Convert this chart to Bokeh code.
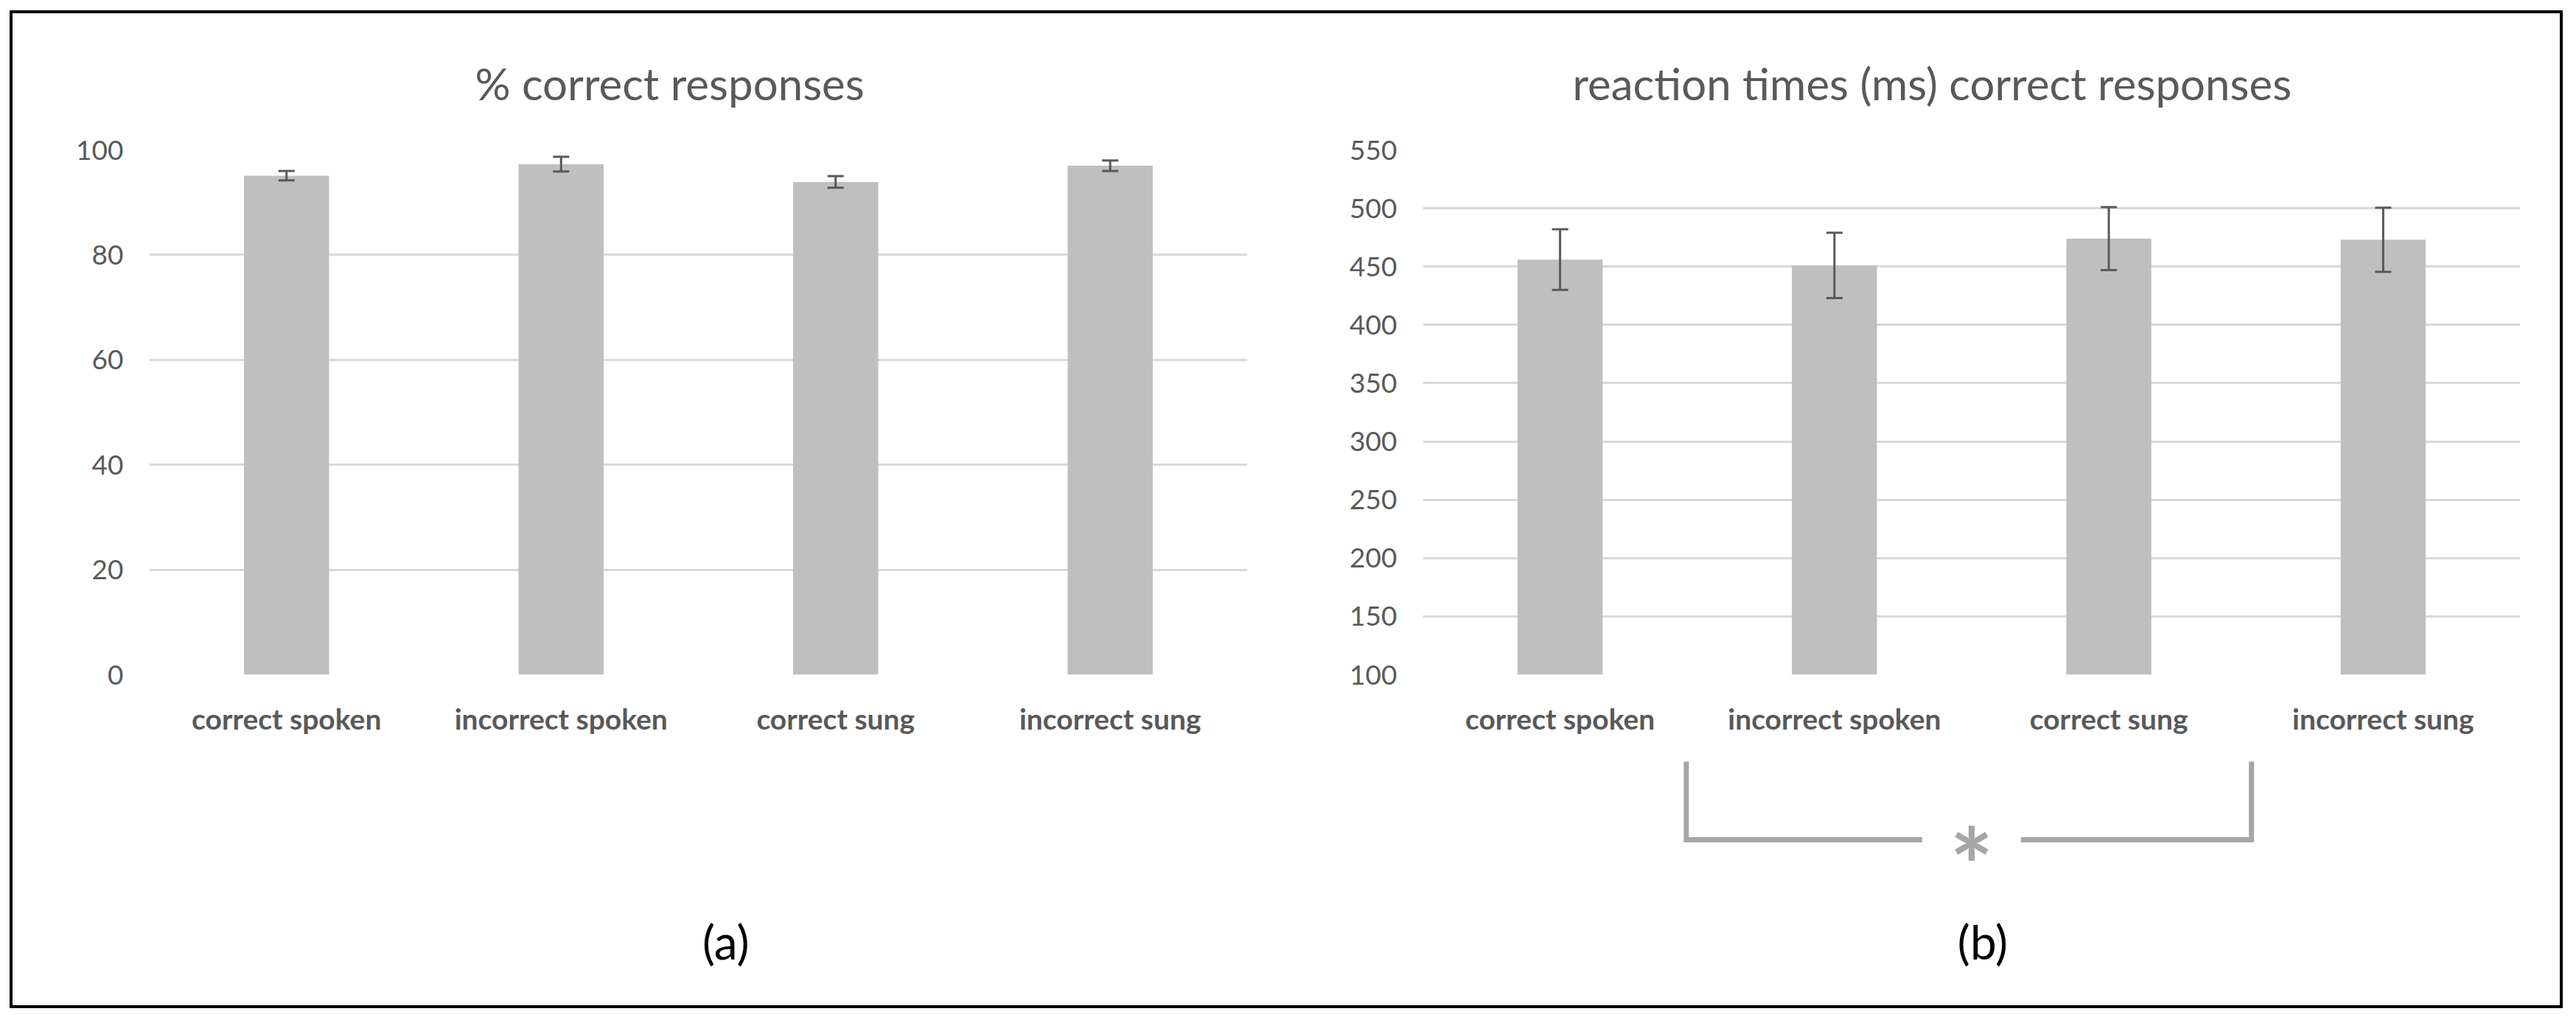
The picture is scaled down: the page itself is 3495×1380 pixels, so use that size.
from bokeh.plotting import figure
from bokeh.models import Range1d, FactorRange, FixedTicker, Whisker, TeeHead, ColumnDataSource
from bokeh.layouts import row, column
from bokeh.embed import file_html
from bokeh.resources import INLINE
from bokeh.core.properties import value

# ---------------- data ----------------
categories = ["correct spoken", "incorrect spoken", "correct sung", "incorrect sung"]
pct_correct = [95.1, 97.3, 93.9, 97.0]
pct_err = [0.9, 1.4, 1.1, 1.0]
rt_ms = [456, 451, 474, 473]
rt_err = [26, 28, 27, 27.5]
pct_ticks = [0, 20, 40, 60, 80, 100]
rt_ticks = [100, 150, 200, 250, 300, 350, 400, 450, 500, 550]
titles = ["% correct responses", "reaction times (ms) correct responses"]
panel_labels = ["(a)", "(b)"]

# ---------------- style ----------------
FW, TOP_H, BOT_H = 1728, 992, 354
FONT = "Lato"
TXT = "#595959"
BAR = "#bfbfbf"
GRID = "#d9d9d9"
BRACKET = "#a6a6a6"


def make_chart(title, vals, errs, ticks, y0, y1, title_offset, right):
    src = ColumnDataSource(dict(
        cat=categories, val=vals,
        upper=[v + e for v, e in zip(vals, errs)],
        lower=[v - e for v, e in zip(vals, errs)],
    ))
    p = figure(x_range=FactorRange(*categories), y_range=Range1d(y0, y1),
               width=FW, height=TOP_H, output_backend="svg", toolbar_location=None,
               min_border_left=185, min_border_right=right, min_border_top=185,
               min_border_bottom=95)
    p.vbar(x="cat", top="val", bottom=y0, width=0.31, source=src,
           fill_color=BAR, line_color=None)
    head_u = TeeHead(size=22, line_color=TXT, line_width=3)
    head_l = TeeHead(size=22, line_color=TXT, line_width=3)
    w = Whisker(base="cat", upper="upper", lower="lower", source=src,
                line_color=TXT, line_width=3, upper_head=head_u, lower_head=head_l,
                level="overlay")
    p.add_layout(w)

    p.title.text = title
    p.title.align = "left"
    p.title.offset = title_offset
    p.title.text_font = FONT
    p.title.text_font_size = "60px"
    p.title.text_font_style = "normal"
    p.title.text_color = TXT
    p.title.standoff = 109

    p.outline_line_color = None
    p.xgrid.grid_line_color = None
    p.ygrid.grid_line_color = GRID
    p.ygrid.grid_line_width = 3

    p.yaxis.ticker = FixedTicker(ticks=ticks)
    p.yaxis.axis_line_color = None
    p.yaxis.major_tick_line_color = None
    p.yaxis.minor_tick_line_color = None
    p.yaxis.major_tick_out = 0
    p.yaxis.major_label_standoff = 35
    p.yaxis.major_label_text_font = FONT
    p.yaxis.major_label_text_font_size = "37px"
    p.yaxis.major_label_text_color = TXT

    p.xaxis.axis_line_color = None
    p.xaxis.major_tick_line_color = None
    p.xaxis.major_tick_out = 0
    p.xaxis.major_label_standoff = 36
    p.xaxis.major_label_text_font = FONT
    p.xaxis.major_label_text_font_style = "bold"
    p.xaxis.major_label_text_font_size = "39px"
    p.xaxis.major_label_text_color = TXT
    return p


def make_bottom(x_range, right):
    b = figure(x_range=x_range, y_range=Range1d(BOT_H, 0), width=FW, height=BOT_H,
               output_backend="svg", toolbar_location=None,
               x_axis_location=None, y_axis_location=None,
               min_border_left=185, min_border_right=right, min_border_top=0,
               min_border_bottom=0)
    b.outline_line_color = None
    b.grid.visible = False
    return b


fig_a = make_chart(titles[0], pct_correct, pct_err, pct_ticks, 0, 100, 442, 53)
fig_b = make_chart(titles[1], rt_ms, rt_err, rt_ticks, 100, 550, 203, 54)

bot_a = make_bottom(fig_a.x_range, 53)
bot_b = make_bottom(fig_b.x_range, 54)

# panel labels
bot_a.text(x=[("correct sung", -0.4)], y=[267], text=[panel_labels[0]],
           text_align="center", text_baseline="middle", text_font=value(FONT),
           text_font_size="64px", text_color="black")
bot_b.text(x=[("correct sung", -0.46)], y=[267], text=[panel_labels[1]],
           text_align="center", text_baseline="middle", text_font=value(FONT),
           text_font_size="64px", text_color="black")

# significance bracket (spoken vs sung)
bot_b.line(x=[("incorrect spoken", -0.54), ("incorrect spoken", -0.54), ("incorrect spoken", 0.32)],
           y=[23, 129, 129], line_color=BRACKET, line_width=7, line_join="miter")
bot_b.line(x=[("correct sung", -0.32), ("incorrect sung", -0.48), ("incorrect sung", -0.48)],
           y=[129, 129, 23], line_color=BRACKET, line_width=7, line_join="miter")
bot_b.text(x=[("correct sung", -0.5)], y=[162], text=["*"],
           text_align="center", text_baseline="alphabetic", text_font=value(FONT),
           text_font_size="140px", text_font_style="bold", text_color=BRACKET)

layout = column(row(fig_a, fig_b), row(bot_a, bot_b),
                styles={"border": "4px solid black"}, margin=(14, 0, 0, 13))

open("out.html", "w").write(file_html(layout, INLINE))
